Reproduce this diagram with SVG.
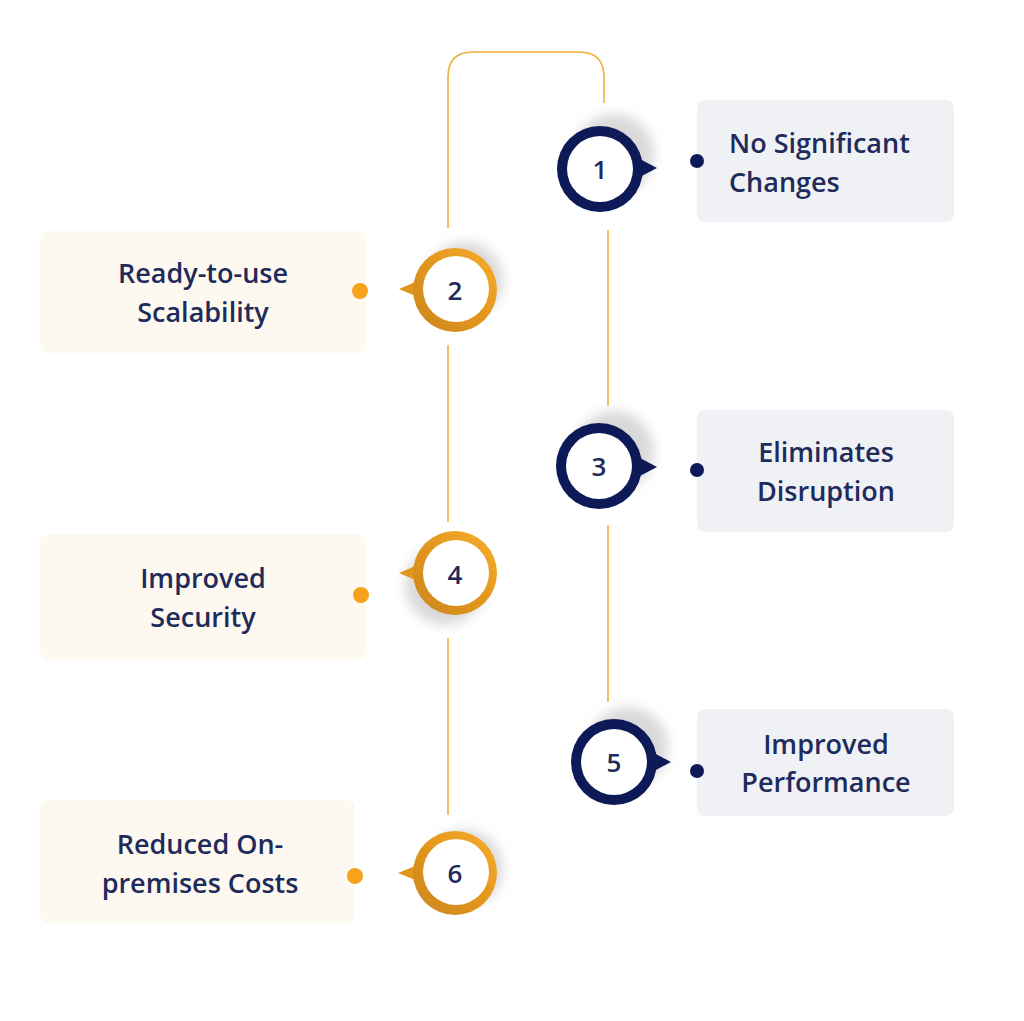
<svg xmlns="http://www.w3.org/2000/svg" width="1024" height="1021" viewBox="0 0 1024 1021">
<style>
.lbl{font-family:"Open Sans","Noto Sans","Liberation Sans",sans-serif;font-weight:600;font-size:27px;fill:#1f2b5b}
.num{font-family:"Open Sans","Noto Sans","Liberation Sans",sans-serif;font-weight:600;font-size:26px;fill:#1f2b5b;text-anchor:middle}
.c{text-anchor:middle}
.boxR{fill:#eff1f4}
.boxL{fill:#fdf9f0}
.conn{fill:none;stroke:#f0b03c;stroke-width:1.6}
.navy{fill:#0d1a57}
.dotO{fill:#f7a21b}
.shadow{fill:#a0a0a0;opacity:.4;filter:url(#blur)}
</style>
<defs>
<filter id="blur" x="-50%" y="-50%" width="200%" height="200%"><feGaussianBlur stdDeviation="6"/></filter>
<linearGradient id="og" x1="0" y1="1" x2="1" y2="0">
<stop offset="0" stop-color="#c9861e"/>
<stop offset="0.5" stop-color="#e3961c"/>
<stop offset="1" stop-color="#f8ae2e"/>
</linearGradient>
</defs>
<rect width="1024" height="1021" fill="#ffffff"/>
<g id="connectors">
<path class="conn" d="M448,228 V77 Q448,52 473,52 H579 Q604,52 604,77 V103"/>
<line class="conn" x1="608" y1="230" x2="608" y2="406"/>
<line class="conn" x1="448" y1="345" x2="448" y2="522"/>
<line class="conn" x1="608" y1="525" x2="608" y2="702"/>
<line class="conn" x1="448" y1="638" x2="448" y2="815"/>
</g>
<g id="node1">
<rect class="boxR" x="697" y="100" width="257" height="122" rx="8"/>
<circle class="navy" cx="697" cy="161" r="7"/>
<circle class="shadow" cx="614" cy="154" r="40"/>
<path class="navy" d="M638,158 L657,168 L638,178 Z"/>
<circle class="navy" cx="600" cy="169" r="43"/>
<circle cx="600" cy="169" r="33" fill="#ffffff"/>
<text class="num" x="600" y="179">1</text>
<text class="lbl" x="729" y="153">No Significant</text>
<text class="lbl" x="729" y="192">Changes</text>
</g>
<g id="node2">
<rect class="boxL" x="40" y="231" width="325" height="122" rx="8"/>
<circle class="dotO" cx="360" cy="291" r="8"/>
<circle class="shadow" cx="465" cy="280" r="38" opacity=".3"/>
<path fill="#e3961c" d="M420,280 L399,289 L420,298 Z"/>
<circle fill="url(#og)" cx="455" cy="290" r="42"/>
<circle cx="456" cy="289" r="33" fill="#ffffff"/>
<text class="num" x="455" y="300">2</text>
<text class="lbl c" x="203" y="283">Ready-to-use</text>
<text class="lbl c" x="203" y="322">Scalability</text>
</g>
<g id="node3">
<rect class="boxR" x="697" y="410" width="257" height="122" rx="8"/>
<circle class="navy" cx="697" cy="470" r="7"/>
<circle class="shadow" cx="614" cy="451" r="40"/>
<path class="navy" d="M638,457 L657,467 L638,477 Z"/>
<circle class="navy" cx="599" cy="466" r="43"/>
<circle cx="599" cy="466" r="33" fill="#ffffff"/>
<text class="num" x="599" y="476">3</text>
<text class="lbl c" x="826" y="462">Eliminates</text>
<text class="lbl c" x="826" y="501">Disruption</text>
</g>
<g id="node4">
<rect class="boxL" x="40" y="534" width="325" height="126" rx="8"/>
<circle class="dotO" cx="361" cy="595" r="8"/>
<circle class="shadow" cx="445" cy="585" r="40"/>
<path fill="#e3961c" d="M420,564 L399,573 L420,582 Z"/>
<circle fill="url(#og)" cx="455" cy="573" r="42"/>
<circle cx="456" cy="573" r="33" fill="#ffffff"/>
<text class="num" x="455" y="584">4</text>
<text class="lbl c" x="203" y="588">Improved</text>
<text class="lbl c" x="203" y="627">Security</text>
</g>
<g id="node5">
<rect class="boxR" x="697" y="709" width="257" height="107" rx="8"/>
<circle class="navy" cx="697" cy="771" r="7"/>
<circle class="shadow" cx="628" cy="747" r="40"/>
<path class="navy" d="M652,752 L671,762 L652,772 Z"/>
<circle class="navy" cx="614" cy="762" r="43"/>
<circle cx="614" cy="762" r="33" fill="#ffffff"/>
<text class="num" x="614" y="772">5</text>
<text class="lbl c" x="826" y="754">Improved</text>
<text class="lbl c" x="826" y="792">Performance</text>
</g>
<g id="node6">
<rect class="boxL" x="40" y="800" width="315" height="123" rx="8"/>
<circle class="dotO" cx="355" cy="876" r="8"/>
<circle class="shadow" cx="465" cy="868" r="38" opacity=".3"/>
<path fill="#e3961c" d="M420,864 L398,873 L420,882 Z"/>
<circle fill="url(#og)" cx="455" cy="873" r="42"/>
<circle cx="456" cy="872" r="33" fill="#ffffff"/>
<text class="num" x="455" y="883">6</text>
<text class="lbl c" x="200" y="854">Reduced On-</text>
<text class="lbl c" x="200" y="893">premises Costs</text>
</g>
</svg>
